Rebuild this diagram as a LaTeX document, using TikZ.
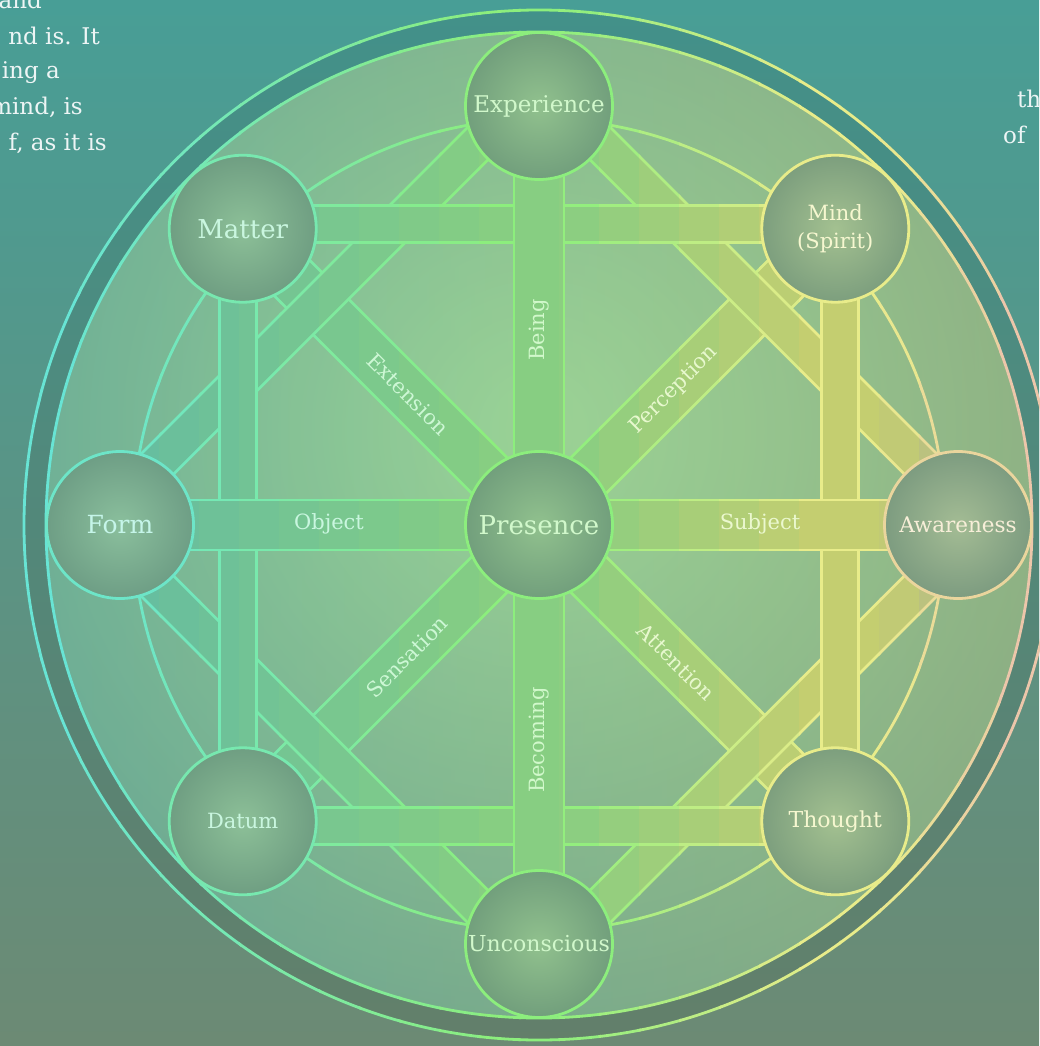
\documentclass[tikz,border=0pt]{standalone}
\usepackage{fontspec}
\setmainfont{DejaVu Serif}
\usetikzlibrary{calc}
\pgfdeclarelayer{backdrop}
\pgfdeclarelayer{bands}
\pgfsetlayers{backdrop,bands,main}

\definecolor{bgtop}{RGB}{72,158,150}
\definecolor{bgbot}{RGB}{108,138,116}
\definecolor{discin}{RGB}{150,204,142}
\definecolor{discout}{RGB}{106,150,128}
\definecolor{lnC}{RGB}{104,228,212}
\definecolor{lnG}{RGB}{140,238,125}
\definecolor{lnY}{RGB}{232,236,138}
\definecolor{lnP}{RGB}{236,198,170}
\definecolor{bfC}{RGB}{96,186,165}
\definecolor{bfG}{RGB}{135,206,130}
\definecolor{bfY}{RGB}{196,206,112}
\definecolor{bfP}{RGB}{176,178,148}
\definecolor{nodein}{RGB}{146,182,146}
\definecolor{nodeout}{RGB}{110,148,124}
\colorlet{nFo}{lnG!14!lnC}
\colorlet{nMa}{lnG!42!lnC}
\colorlet{nMi}{lnY}
\colorlet{nAw}{lnP!60!lnY}

% the line work, drawn once per colour strip
\newcommand{\drawwheel}{%
  \draw[wheel] (pr.center) circle (406pt);
  \draw[spoke] (ma.center) -- (th.center);
  \draw[spoke] (mi.center) -- (da.center);
  \foreach \a/\b/\dx/\dy in {ex/fo/-11.8/-11.8, ex/aw/11.8/-11.8, aw/un/11.8/11.8, un/fo/-11.8/11.8}
    \draw[band] ([shift={(\dx,\dy)}]\a.center) -- ([shift={(\dx,\dy)}]\b.center);
  \foreach \a/\b/\dx/\dy in {ma/mi/0/-5, mi/th/5/0, th/da/0/5, da/ma/-5/0}
    \draw[band] ([shift={(\dx,\dy)}]\a.center) -- ([shift={(\dx,\dy)}]\b.center);
  \draw[spoke] (ex.center) -- (un.center);
  \draw[spoke] (fo.center) -- (aw.center);
  \draw[wheel] (pr.center) circle (493pt);
  \draw[wheel] (pr.center) circle (515pt);
}

\begin{document}
\begin{tikzpicture}[x=1pt,y=-1pt,
  wheel/.style={draw=lnc,line width=2.8pt,line cap=butt},
  band/.style={wheel,double=bfc,double distance=34.4pt},
  spoke/.style={wheel,double=bfc,double distance=47.2pt},
  hub/.style={circle,minimum size=147pt,inner sep=0pt,outer sep=0pt,line width=2.8pt,align=center},
  tag/.style={inner sep=0pt,font=\fontsize{21}{24}\selectfont},
  para/.style={inner sep=0pt,text=white!90!bgtop,font=\fontsize{23}{26}\selectfont}]
\useasboundingbox (0,0) rectangle (1039,1046);

\node[hub,draw=lnG,shade,inner color=lnG!20!nodein,outer color=lnG!12!nodeout,
  text=lnG!40!white,font=\fontsize{26}{28}\selectfont] (pr) at (539,525) {Presence};
\foreach \n/\a/\t/\s/\c in {
    ex/90/Experience/23/lnG,
    mi/45/{Mind\\(Spirit)}/21/nMi,
    aw/0/Awareness/21.5/nAw,
    th/-45/Thought/22/nMi,
    un/-90/Unconscious/22/lnG,
    da/-135/Datum/21/nMa,
    fo/180/Form/25/nFo,
    ma/135/Matter/26/nMa}
  { \node[hub,draw=\c,shade,inner color=\c!20!nodein,outer color=\c!12!nodeout,
      text=\c!40!white,font=\fontsize{\s}{28}\selectfont]
      (\n) at ($(pr.center)+(\a:419pt)$) {\t}; }

\foreach \n/\p/\r/\t/\c in {
    lbe/{539,330}/90/Being/lnG,
    lbc/{539,740}/90/Becoming/lnG,
    lob/{329,524}/0/Object/nMa,
    lsu/{760,524}/0/Subject/lnY!70!lnG,
    lex/{408,394}/-45/Extension/nMa!50!lnG,
    lpe/{674,390}/45/Perception/lnY!60!lnG,
    lse/{407,657}/45/Sensation/nMa!50!lnG,
    lat/{676,662}/-45/Attention/lnY!60!lnG}
  { \node[tag,rotate=\r,text=\c!40!white] (\n) at (\p) {\t}; }

\node[para,anchor=base east] (t1) at (42,9) {and};
\node[para,anchor=base east] (t2) at (100,45) {nd is. It};
\node[para,anchor=base east] (t3) at (60,79) {ing a};
\node[para,anchor=base east] (t4) at (83,114) {mind, is};
\node[para,anchor=base east] (t5) at (107,150) {f, as it is};
\node[para,anchor=base west] (t6) at (1017,108) {th};
\node[para,anchor=base west] (t7) at (1003,143) {of};

\begin{pgfonlayer}{backdrop}
  \shade[top color=bgtop,bottom color=bgbot] (0,0) rectangle (1039,1046);
  \fill[black,opacity=0.08] (pr.center) circle (515pt);
  \begin{scope}
    \clip (pr.center) circle (493pt);
    \shade[inner color=discin,outer color=discout] (539,430) circle (600pt);
    \shade[left color=lnC,right color=lnY,opacity=0.25] (0,0) rectangle (1039,1046);
  \end{scope}
\end{pgfonlayer}

\begin{pgfonlayer}{bands}
\foreach \i in {0,...,25}{
  \pgfmathsetmacro\xa{40*\i}
  \pgfmathsetmacro\pa{max(0,min(100,(\xa-40)/4.4))}
  \pgfmathsetmacro\pb{max(0,min(100,(\xa-540)/2.6))}
  \pgfmathsetmacro\pc{max(0,min(100,(\xa-860)/1.4))}
  \colorlet{lna}{lnG!\pa!lnC}\colorlet{lnb}{lnY!\pb!lna}\colorlet{lnc}{lnP!\pc!lnb}
  \colorlet{bfa}{bfG!\pa!bfC}\colorlet{bfb}{bfY!\pb!bfa}\colorlet{bfc}{bfP!\pc!bfb}
  \begin{scope}
    \clip (\xa-1,-20) rectangle (\xa+41,1070);
    \drawwheel
  \end{scope}
}
\end{pgfonlayer}
\end{tikzpicture}
\end{document}
